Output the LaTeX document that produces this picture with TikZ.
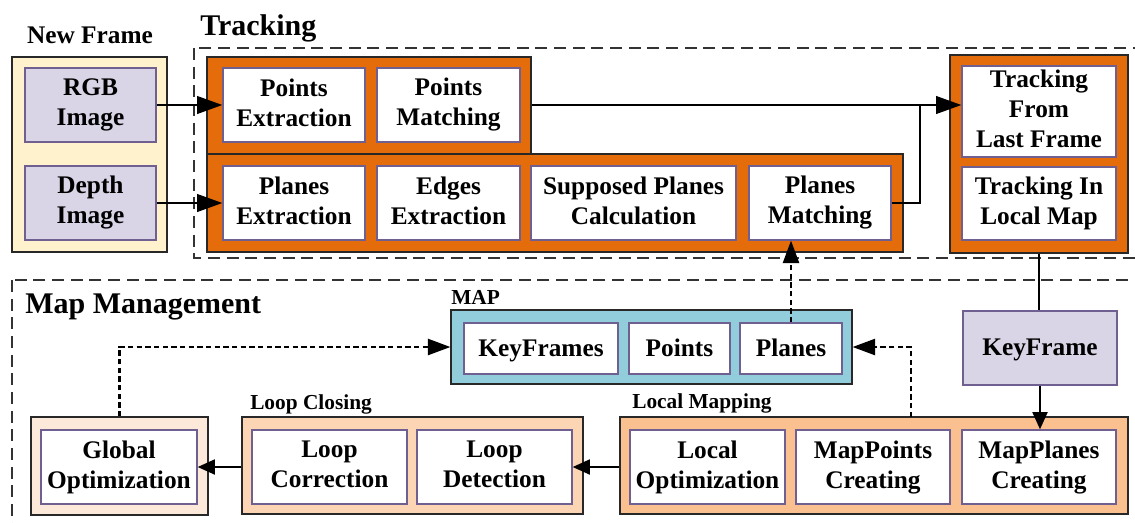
\documentclass[tikz,border=0pt]{standalone}
\usepackage{fontspec}
\setmainfont{Liberation Serif}
\usetikzlibrary{arrows.meta}
\definecolor{trkorange}{RGB}{228,108,10}
\definecolor{frameyellow}{RGB}{255,242,204}
\definecolor{lavender}{RGB}{218,213,230}
\definecolor{mapblue}{RGB}{146,205,220}
\definecolor{lmpeach}{RGB}{250,192,144}
\definecolor{lcpeach}{RGB}{252,213,181}
\definecolor{gopale}{RGB}{253,233,217}
\definecolor{inborder}{RGB}{112,96,146}
\definecolor{outborder}{RGB}{40,40,40}
\newcommand\boxstrut{\rule[-3.75pt]{0pt}{19.5pt}}
\begin{document}
\begin{tikzpicture}[%
    x=0.75pt, y=-0.75pt,
    box/.style={inner sep=0pt, align=center, minimum width=115.5pt, minimum height=55.5pt,
      font=\bfseries\fontsize{19}{22.5}\selectfont,
      execute at begin node=\boxstrut, execute at end node=\boxstrut},
    inbox/.style={box, draw=inborder, line width=0.8pt, fill=white},
    lavbox/.style={box, draw=inborder, line width=0.8pt, fill=lavender},
    outbox/.style={inner sep=0pt, draw=outborder, line width=0.8pt},
    title/.style={inner sep=0pt, font=\bfseries\fontsize{22.5}{26}\selectfont},
    label/.style={inner sep=0pt, font=\bfseries\fontsize{16}{19}\selectfont},
    frame/.style={draw=black!80, line width=0.8pt, dash pattern=on 9pt off 5pt},
    bigarrow/.style={line width=2.2pt, -{Triangle[length=19pt,width=13pt]}},
    midarrow/.style={line width=2.2pt, -{Triangle[length=13pt,width=11pt]}},
    dotarrow/.style={line width=2pt, dash pattern=on 4pt off 2.5pt, -{Triangle[length=17pt,width=12pt]}},
    solidline/.style={line width=2.2pt}
  ]
  \useasboundingbox (0,0) rectangle (1135,522);

  % dashed frames
  \draw[frame] (194,48) rectangle (1150,258);
  \draw[frame] (12,280) rectangle (1150,540);

  \node[title, anchor=base west] (trktitle) at (200,35) {Tracking};
  \node[title, anchor=base west] (mmtitle) at (25,313) {Map Management};

  % new frame
  \node[label, font=\bfseries\fontsize{19}{22}\selectfont, anchor=base] (nftitle) at (90,43) {New Frame};
  \node[outbox, fill=frameyellow, minimum width=116.25pt, minimum height=146.25pt] (NF) at (89.5,154.5) {};
  \node[lavbox, minimum width=98.25pt] (RGB) at (90.5,105) {RGB\\Image};
  \node[lavbox, minimum width=98.25pt] (DEP) at (90.5,203) {Depth\\Image};

  % tracking
  \node[outbox, fill=trkorange, minimum width=243pt, minimum height=72.75pt] (PT) at (369,105.5) {};
  \node[outbox, fill=trkorange, minimum width=522pt, minimum height=73.5pt] (PL) at (555,203) {};
  \node[inbox, minimum width=106.5pt] (PE) at (294,105) {Points\\Extraction};
  \node[inbox, minimum width=107.25pt] (PM) at (448.5,105) {Points\\Matching};
  \node[inbox, minimum width=106.5pt] (PLE) at (294,203) {Planes\\Extraction};
  \node[inbox, minimum width=107.25pt] (EE) at (448.5,203) {Edges\\Extraction};
  \node[inbox, minimum width=153.75pt] (SP) at (633.5,203) {Supposed Planes\\Calculation};
  \node[inbox, minimum width=106.5pt] (PLM) at (820,203) {Planes\\Matching};
  \node[outbox, fill=trkorange, minimum width=133.5pt, minimum height=148.5pt] (TR) at (1039,154) {};
  \node[inbox, minimum height=68.25pt] (TLF) at (1039,111.5) {Tracking\\From\\Last Frame};
  \node[inbox, minimum height=54.75pt] (TLM) at (1039,203.5) {Tracking In\\Local Map};

  % map
  \node[label, anchor=base west] (maptitle) at (451,304) {MAP};
  \node[outbox, fill=mapblue, minimum width=300.75pt, minimum height=55.5pt] (MAP) at (651.5,347) {};
  \node[inbox, minimum height=38.25pt] (KFS) at (541,348.5) {KeyFrames};
  \node[inbox, minimum width=75.75pt, minimum height=38.25pt] (PTS) at (679.5,348.5) {Points};
  \node[inbox, minimum width=76.5pt, minimum height=38.25pt] (PLS) at (791,348.5) {Planes};
  \node[lavbox] (KFR) at (1040,348) {KeyFrame};

  % local mapping
  \node[label, anchor=base west] (lmtitle) at (632,408) {Local Mapping};
  \node[outbox, fill=lmpeach, minimum width=381pt, minimum height=72.75pt] (LM) at (874,465.5) {};
  \node[inbox, minimum width=116.25pt] (LO) at (707.5,467) {Local\\Optimization};
  \node[inbox] (MPC) at (873,467) {MapPoints\\Creating};
  \node[inbox] (MPL) at (1039,467) {MapPlanes\\Creating};

  % loop closing
  \node[label, anchor=base west] (lctitle) at (250,409) {Loop Closing};
  \node[outbox, fill=lcpeach, minimum width=255.75pt, minimum height=72.75pt] (LC) at (412.5,465.5) {};
  \node[inbox, minimum width=116.25pt] (LCR) at (329.5,467) {Loop\\Correction};
  \node[inbox, minimum width=116.25pt] (LD) at (494.5,467) {Loop\\Detection};
  \node[outbox, fill=gopale, minimum width=132.75pt, minimum height=73.5pt] (GO) at (119.5,466) {};
  \node[inbox, minimum width=117pt] (GOW) at (119,467) {Global\\Optimization};

  \coordinate (join) at (920,105);
  \coordinate (lmtap) at (911,417);

  \draw[bigarrow] (RGB) -- (PE);
  \draw[bigarrow] (DEP) -- (PLE);
  \draw[bigarrow] (PT.east |- PM) -- (TLF.west |- PM);
  \draw[solidline] (PLM.east) -| (join);
  \draw[solidline] (TR.south) -- (TR.south |- KFR.north);
  \draw[midarrow] (KFR.south) -- (KFR.south |- MPL.north);
  \draw[midarrow] (LM.west |- LD.east) -- (LD.east);
  \draw[midarrow] (LC.west |- GOW.east) -- (GOW.east);
  \draw[dotarrow] (GO.north) |- (MAP.west);
  \draw[dotarrow] (lmtap) |- (MAP.east);
  \draw[dotarrow] (PLS.north) -- (PLS.north |- PLM.south);
\end{tikzpicture}
\end{document}
